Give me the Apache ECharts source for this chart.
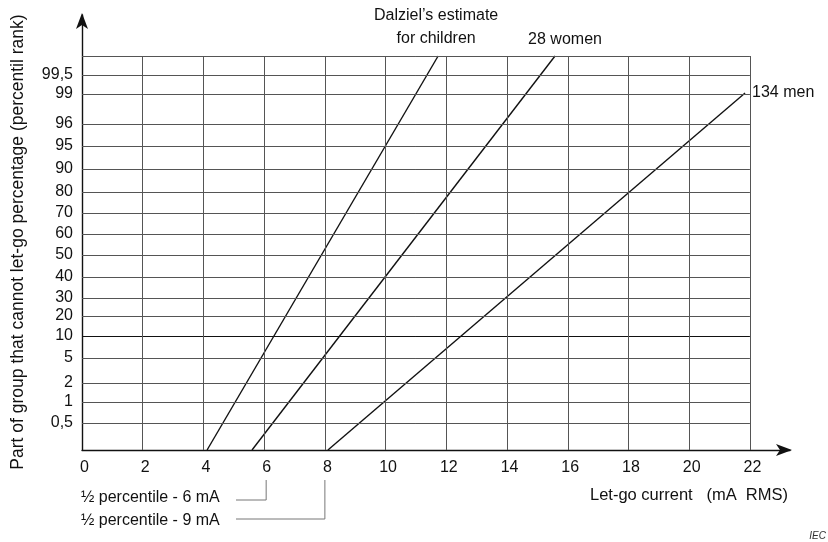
<!DOCTYPE html>
<html><head><meta charset="utf-8">
<script src="https://cdn.jsdelivr.net/npm/echarts@6/dist/echarts.min.js"></script>
<style>html,body{margin:0;padding:0;background:#fff}#c{width:828px;height:542px}</style>
</head><body><div id="c"></div>
<script>
// ---- data ----
const xTicks = [0, 2, 4, 6, 8, 10, 12, 14, 16, 18, 20, 22];
const yTickPos = [27, 48, 67, 92, 114, 134, 152, 173, 195, 216, 237, 258, 281, 304, 326, 356, 375];
const yTickLabels = ['0,5', '1', '2', '5', '10', '20', '30', '40', '50', '60', '70', '80', '90', '95', '96', '99', '99,5'];
const yTop = 394;
const xMaxGrid = 22;
const childrenLine = [[4.12, 0], [11.73, 394]];
const womenLine = [[5.6, 0], [15.58, 394]];
const menLine = [[8.1, 0], [21.84, 357]];
const childrenLabel = 'Dalziel\u2019s estimate\nfor children';
const womenLabel = '28 women';
const menLabel = '134 men';
const note6 = '\u00BD percentile - 6 mA';
const note9 = '\u00BD percentile - 9 mA';
const note6X = 6, note9X = 8;
const xTitle = 'Let-go current   (mA  RMS)';
const yTitle = 'Part of group that cannot let-go percentage (percentil rank)';

const FONT = '"Liberation Sans", Arial, sans-serif';
const chart = echarts.init(document.getElementById('c'));

// grid lines as markLines
const gridLines = [];
yTickPos.concat([yTop]).forEach(v => {
  gridLines.push([{ coord: [0, v], lineStyle: { color: v === 114 ? '#111' : '#555', width: 1 } }, { coord: [xMaxGrid, v] }]);
});
xTicks.slice(1).forEach(v => {
  gridLines.push([{ coord: [v, 0] }, { coord: [v, yTop] }]);
});

const lineStyle = { color: '#111', width: 1.4 };
chart.setOption({
  animation: false,
  backgroundColor: '#fff',
  grid: { left: 82, right: 38, top: 15, bottom: 92, containLabel: false },
  xAxis: {
    type: 'value', min: 0, max: 23.32,
    axisLine: { show: true, lineStyle: { color: '#111', width: 1.4 }, symbol: ['none', 'arrow'], symbolSize: [9, 16], symbolOffset: [0, 2] },
    axisTick: { show: false },
    splitLine: { show: false },
    axisLabel: { customValues: xTicks, color: '#111', fontFamily: FONT, fontSize: 16, margin: 10, padding: [0, 0, 0, 5] }
  },
  yAxis: {
    type: 'value', min: 0, max: 435,
    axisLine: { show: true, lineStyle: { color: '#111', width: 1.4 }, symbol: ['none', 'arrow'], symbolSize: [9, 16], symbolOffset: [0, 2] },
    axisTick: { show: false },
    splitLine: { show: false },
    axisLabel: {
      customValues: yTickPos, color: '#111', fontFamily: FONT, fontSize: 16, margin: 9,
      formatter: v => { const i = yTickPos.indexOf(v); return i >= 0 ? yTickLabels[i] : ''; }
    }
  },
  series: [
    {
      type: 'line', data: childrenLine, showSymbol: false, lineStyle, silent: true,
      markLine: { silent: true, symbol: ['none', 'none'], label: { show: false }, lineStyle: { color: '#555', width: 1, type: 'solid' }, data: gridLines }
    },
    { type: 'line', data: womenLine, showSymbol: false, lineStyle, silent: true },
    { type: 'line', data: menLine, showSymbol: false, lineStyle, silent: true }
  ]
});

const px = (x, y) => chart.convertToPixel({ gridIndex: 0 }, [x, y]);
const cEnd = px(...childrenLine[1]);
const wEnd = px(...womenLine[1]);
const mEnd = px(...menLine[1]);
const origin = px(0, 0);
const p6 = px(note6X, 0), p8 = px(note9X, 0);
const txt = (x, y, text, extra) => ({
  type: 'text', x, y, silent: true,
  style: Object.assign({ text, fill: '#111', font: '16px ' + FONT }, extra || {})
});
chart.setOption({
  graphic: [
    txt(cEnd[0] - 2, cEnd[1] - 6, childrenLabel, { align: 'center', verticalAlign: 'bottom', lineHeight: 23 }),
    txt(wEnd[0] + 10, wEnd[1] - 8, womenLabel, { align: 'center', verticalAlign: 'bottom' }),
    txt(mEnd[0] + 7, mEnd[1], menLabel, { align: 'left', verticalAlign: 'middle' }),
    txt(788, 495, xTitle, { align: 'right', verticalAlign: 'middle', font: '16.5px ' + FONT }),
    { type: 'text', x: 18, y: 242, rotation: Math.PI / 2, silent: true,
      style: { text: yTitle, fill: '#111', font: '17.5px ' + FONT, align: 'center', verticalAlign: 'middle' } },
    txt(origin[0] - 1, 498, note6, { align: 'left', verticalAlign: 'middle' }),
    txt(origin[0] - 1, 521, note9, { align: 'left', verticalAlign: 'middle' }),
    { type: 'polyline', silent: true, shape: { points: [[236, 500], [p6[0] + 2, 500], [p6[0] + 2, 480]] }, style: { stroke: '#777', lineWidth: 1, fill: null } },
    { type: 'polyline', silent: true, shape: { points: [[236, 519], [p8[0], 519], [p8[0], 480]] }, style: { stroke: '#777', lineWidth: 1, fill: null } },
    txt(826, 536, 'IEC', { align: 'right', verticalAlign: 'middle', font: 'italic 10px ' + FONT, fill: '#333' })
  ]
});
</script></body></html>
